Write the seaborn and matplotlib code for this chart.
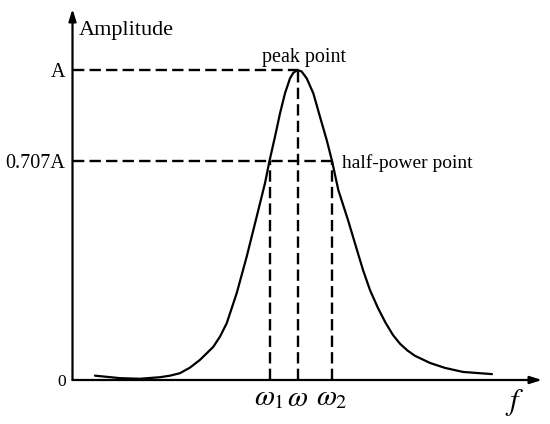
import numpy as np
import matplotlib
matplotlib.use("Agg")
import matplotlib.pyplot as plt
import pandas as pd
import seaborn as sns

# frequency axis (arbitrary units) and amplitude (in units of A)
freq = [22.5, 47.5, 67.5, 87.5, 97.5, 107.5, 117.5, 127.5, 140.8, 147.5, 154.2,
        164.2, 174.2, 184.2, 192.5, 197.0, 202.5, 207.5, 212.5, 217.5, 220.8,
        225.0, 229.2, 234.2, 240.8, 247.5, 254.2, 259.5, 265.8, 275.5, 284.5,
        290.5, 297.5, 305.5, 313.0, 320.5, 327.5, 335.0, 342.5, 357.5, 372.5,
        390.5, 419.5]
amp = [0.014, 0.006, 0.004, 0.009, 0.014, 0.022, 0.040, 0.065, 0.107, 0.140, 0.183,
       0.280, 0.398, 0.527, 0.635, 0.707, 0.785, 0.860, 0.925, 0.973, 0.991,
       1.000, 0.995, 0.973, 0.925, 0.849, 0.774, 0.707, 0.613, 0.516, 0.419,
       0.355, 0.290, 0.232, 0.185, 0.145, 0.117, 0.095, 0.078, 0.055, 0.039,
       0.026, 0.019]

omega_1 = 197.0
omega_0 = 225.0
omega_2 = 259.5
half_power = 0.707
peak = 1.0

ytick_vals = [0, half_power, peak]
ytick_labels = ["0", "0.707A", "A"]
xtick_vals = [omega_1, omega_0, omega_2]
xtick_labels = [r"$\omega_1$", r"$\omega$", r"$\omega_2$"]

df = pd.DataFrame({"f": freq, "amp": amp})

sns.set_style("white")
plt.rcParams["font.family"] = ["Liberation Serif", "DejaVu Serif"]
plt.rcParams["mathtext.fontset"] = "stix"
plt.rcParams["text.color"] = "black"
plt.rcParams["xtick.color"] = "black"
plt.rcParams["ytick.color"] = "black"

fig = plt.figure(figsize=(5.5, 4.24), dpi=100)
ax = fig.add_axes([72.5 / 550, 44 / 424, 469.5 / 550, 371 / 424])

sns.lineplot(data=df, x="f", y="amp", color="black", linewidth=1.6, ax=ax,
             solid_capstyle="round", solid_joinstyle="round")

dash = (0, (4.8, 2.2))
lw_d = 1.7
ax.plot([0, omega_0], [peak, peak], color="black", lw=lw_d, ls=dash)
ax.plot([0, omega_2], [half_power, half_power], color="black", lw=lw_d, ls=dash)
ax.plot([omega_1, omega_1], [0, half_power], color="black", lw=lw_d, ls=dash)
ax.plot([omega_0, omega_0], [0, peak], color="black", lw=lw_d, ls=dash)
ax.plot([omega_2, omega_2], [0, half_power], color="black", lw=lw_d, ls=dash)

ax.set_xlim(0, 469.5)
ax.set_ylim(0, 371 / 310)
for s in ax.spines.values():
    s.set_visible(False)

# axes with arrow heads
arrow = dict(arrowstyle="-|>,head_length=0.7,head_width=0.22", color="black",
             lw=1.6, shrinkA=0, shrinkB=0)
ax.annotate("", xy=(1, 0), xytext=(0, 0), xycoords="axes fraction",
            textcoords="axes fraction", arrowprops=arrow)
ax.annotate("", xy=(0, 1), xytext=(0, 0), xycoords="axes fraction",
            textcoords="axes fraction", arrowprops=arrow)

ax.set_yticks(ytick_vals)
ax.set_yticklabels(ytick_labels, fontsize=14.5)
ax.get_yticklabels()[0].set_fontsize(12.5)
ax.set_xticks(xtick_vals)
ax.set_xticklabels(xtick_labels, fontsize=21)
ax.tick_params(axis="y", length=0, pad=5)
ax.tick_params(axis="x", length=0, pad=4)
ax.set_xlabel("")
ax.set_ylabel("")

ax.text(6.5, 1.129, "Amplitude", fontsize=16, ha="left", va="center")
ax.text(omega_0 + 7, peak + 0.039, "peak point", fontsize=14.5, ha="center", va="center")
ax.text(omega_2 + 10, half_power - 0.007, "half-power point", fontsize=14,
        ha="left", va="center")
ax.text(442.5, -0.071, r"$f$", fontsize=22, ha="center", va="center")

fig.savefig("out.png", dpi=100)
